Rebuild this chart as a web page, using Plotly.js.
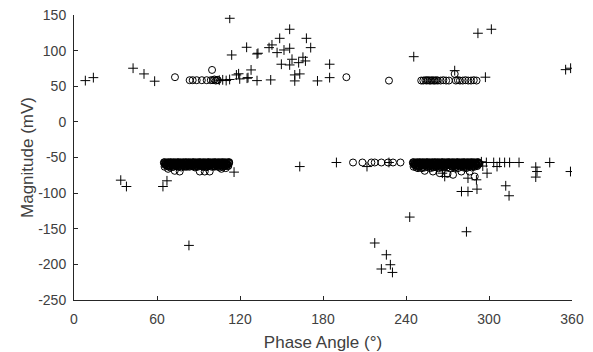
<!DOCTYPE html>
<html>
<head>
<meta charset="utf-8">
<script src="https://cdn.plot.ly/plotly-3.0.1.min.js"></script>
<style>html,body{margin:0;padding:0;background:#fff;}#chart{width:593px;height:352px;}</style>
</head>
<body>
<div id="chart"></div>
<script>
// '+' markers
const plusX = [8.2, 14.0, 42.7, 50.6, 58.3, 105.0, 107.5, 110.0, 112.5, 112.6, 114.0, 117.4, 119.0, 119.8, 124.8, 125.1, 125.8, 128.0, 132.3, 132.3, 133.0, 142.2, 143.1, 141.0, 146.8, 148.7, 151.8, 155.9, 155.9, 149.9, 155.9, 157.6, 162.4, 165.5, 167.3, 168.0, 171.1, 159.6, 163.2, 159.6, 176.0, 184.8, 184.8, 245.6, 275.2, 292.0, 301.7, 297.4, 355.4, 359.0,
  33.8, 37.9, 64.3, 67.2, 83.1, 115.7, 163.2, 189.7, 211.8, 227.7, 242.7, 217.4, 225.8, 228.7, 222.2, 230.2, 294.5, 298.1, 303.4, 307.7, 311.3, 314.9, 321.7, 343.9, 333.8, 334.7, 333.8, 358.9, 305.8, 298.6, 290.9, 284.8, 291.3, 280.1, 284.8, 312.1, 314.5, 283.7, 268.0, 266.3, 257.0, 262.0, 276.0, 295.5];
const plusY = [57.9, 62.1, 75.3, 67.3, 57.1, 58.5, 59.0, 58.0, 59.5, 145.4, 93.9, 65.9, 67.5, 60.3, 104.7, 61.3, 62.1, 72.9, 57.9, 95.3, 96.3, 58.9, 108.0, 104.2, 97.2, 117.3, 100.9, 130.0, 103.3, 80.9, 79.9, 87.9, 83.1, 90.7, 85.5, 117.3, 104.2, 65.9, 67.3, 57.5, 57.5, 80.9, 62.1, 91.5, 71.9, 124.4, 130.0, 62.7, 73.3, 75.3,
  -81.8, -90.7, -90.7, -82.7, -173.4, -70.5, -62.7, -57.0, -62.7, -57.0, -133.6, -170.0, -186.5, -200.5, -206.5, -211.3, -56.0, -57.0, -57.0, -57.0, -57.0, -57.0, -57.0, -57.0, -63.5, -69.7, -77.5, -69.7, -62.7, -72.0, -81.3, -79.0, -94.4, -97.7, -97.7, -89.7, -103.7, -154.2, -76.6, -72.0, -64.0, -66.0, -65.0, -62.0];

// 'o' markers
const circX = [73.0, 83.6, 85.8, 88.7, 92.4, 95.9, 98.9, 99.8, 100.5, 101.5, 102.5, 103.5, 104.0,
  196.9, 227.7, 201.7, 208.5, 215.0, 217.4, 222.2, 227.0, 230.6, 236.0,
  251.0, 252.5, 254.0, 255.0, 256.0, 257.0, 258.0, 259.0, 260.0, 261.0, 262.0, 263.0, 265.0, 267.0, 269.0, 271.0, 275.2, 276.0, 277.5, 279.0, 281.0, 283.0, 285.0, 287.0, 289.0, 291.0,
  65, 66, 67, 68, 69, 70, 71, 72, 73, 74, 75, 76, 77, 78, 79, 80, 81, 82, 83, 84, 85, 86, 87, 88, 89, 90, 91, 92, 93, 94, 95, 96, 97, 98, 99, 100, 101, 102, 103, 104, 105, 106, 107, 108, 109, 110, 111, 112,
  65.5, 67.5, 69.5, 71.5, 73.5, 75.5, 77.5, 79.5, 81.5, 83.5, 85.5, 87.5, 89.5, 91.5, 93.5, 95.5, 97.5, 99.5, 101.5, 103.5, 105.5, 107.5, 109.5, 111.5,
  65.2, 65.9, 66.6, 67.3, 68.0, 68.7, 69.4, 70.1, 70.8, 71.5, 72.2, 72.9, 73.6, 74.3, 75.0, 75.7, 76.4, 77.1, 77.8, 78.5, 79.2, 79.9, 80.6, 81.3, 82.0, 82.7, 83.4, 84.1, 84.8, 85.5, 86.2, 86.9, 87.6, 88.3, 89.0, 89.7, 90.4, 91.1, 91.8, 92.5, 93.2, 93.9, 94.6, 95.3, 96.0, 96.7, 97.4, 98.1, 98.8, 99.5, 100.2, 100.9, 101.6, 102.3, 103.0, 103.7, 104.4, 105.1, 105.8, 106.5, 107.2, 107.9, 108.6, 109.3, 110.0, 110.7, 111.4, 112.1,
  65.4, 66.3, 67.2, 68.1, 69.0, 69.9, 70.8, 71.7, 72.6, 73.5, 74.4, 75.3, 76.2, 77.1, 78.0, 78.9, 79.8, 80.7, 81.6, 82.5, 83.4, 84.3, 85.2, 86.1, 87.0, 87.9, 88.8, 89.7, 90.6, 91.5, 92.4, 93.3, 94.2, 95.1, 96.0, 96.9, 97.8, 98.7, 99.6, 100.5, 101.4, 102.3, 103.2, 104.1, 105.0, 105.9, 106.8, 107.7, 108.6, 109.5, 110.4, 111.3, 112.2,
  68.0, 72.8, 76.4, 90.9, 94.5, 98.1, 106.6, 109.7,
  245, 246, 247, 248, 249, 250, 251, 252, 253, 254, 255, 256, 257, 258, 259, 260, 261, 262, 263, 264, 265, 266, 267, 268, 269, 270, 271, 272, 273, 274, 275, 276, 277, 278, 279, 280, 281, 282, 283, 284, 285, 286, 287, 288, 289, 290, 291, 292, 293,
  245.5, 247.5, 249.5, 251.5, 253.5, 255.5, 257.5, 259.5, 261.5, 263.5, 265.5, 267.5, 269.5, 271.5, 273.5, 275.5, 277.5, 279.5, 281.5, 283.5, 285.5, 287.5, 289.5, 291.5,
  245.2, 245.9, 246.6, 247.3, 248.0, 248.7, 249.4, 250.1, 250.8, 251.5, 252.2, 252.9, 253.6, 254.3, 255.0, 255.7, 256.4, 257.1, 257.8, 258.5, 259.2, 259.9, 260.6, 261.3, 262.0, 262.7, 263.4, 264.1, 264.8, 265.5, 266.2, 266.9, 267.6, 268.3, 269.0, 269.7, 270.4, 271.1, 271.8, 272.5, 273.2, 273.9, 274.6, 275.3, 276.0, 276.7, 277.4, 278.1, 278.8, 279.5, 280.2, 280.9, 281.6, 282.3, 283.0, 283.7, 284.4, 285.1, 285.8, 286.5, 287.2, 287.9, 288.6, 289.3, 290.0, 290.7, 291.4, 292.1, 292.8,
  245.4, 246.3, 247.2, 248.1, 249.0, 249.9, 250.8, 251.7, 252.6, 253.5, 254.4, 255.3, 256.2, 257.1, 258.0, 258.9, 259.8, 260.7, 261.6, 262.5, 263.4, 264.3, 265.2, 266.1, 267.0, 267.9, 268.8, 269.7, 270.6, 271.5, 272.4, 273.3, 274.2, 275.1, 276.0, 276.9, 277.8, 278.7, 279.6, 280.5, 281.4, 282.3, 283.2, 284.1, 285.0, 285.9, 286.8, 287.7, 288.6, 289.5, 290.4, 291.3, 292.2,
  248.7, 253.5, 259.5, 264.4, 270.0, 274.0, 280.0, 286.0, 289.7];
const circY = [62.7, 58.5, 58.5, 58.5, 58.5, 58.5, 58.5, 72.9, 58.5, 59.5, 58.0, 59.0, 58.5,
  62.7, 57.9, -57.0, -57.0, -57.0, -57.0, -57.0, -57.0, -57.0, -57.0,
  58.0, 58.0, 58.5, 58.0, 58.5, 58.0, 58.0, 58.5, 58.0, 58.0, 58.5, 58.0, 58.0, 58.5, 58.0, 58.0, 67.3, 58.0, 58.5, 58.0, 58.0, 58.5, 58.0, 58.0, 58.5, 58.0,
  -57, -59, -61, -58, -62, -57, -60, -63, -58, -61, -57, -59, -62, -58, -60, -63, -57, -61, -59, -58, -62, -57, -60, -63, -58, -61, -57, -59, -62, -58, -60, -63, -57, -61, -59, -58, -62, -57, -60, -63, -58, -61, -57, -59, -62, -58, -60, -57,
  -63, -62, -64, -63, -62, -63, -64, -62, -63, -63, -62, -64, -63, -62, -63, -64, -62, -63, -63, -62, -64, -63, -62, -62,
  -58.5, -60.5, -59.5, -61.5, -58.0, -60.0, -62.0, -59.0, -61.0, -58.5, -60.5, -59.5, -61.5, -58.0, -60.0, -62.0, -59.0, -61.0, -58.5, -60.5, -59.5, -61.5, -58.0, -60.0, -62.0, -59.0, -61.0, -58.5, -60.5, -59.5, -61.5, -58.0, -60.0, -62.0, -59.0, -61.0, -58.5, -60.5, -59.5, -61.5, -58.0, -60.0, -62.0, -59.0, -61.0, -58.5, -60.5, -59.5, -61.5, -58.0, -60.0, -62.0, -59.0, -61.0, -58.5, -60.5, -59.5, -61.5, -58.0, -60.0, -62.0, -59.0, -61.0, -58.5, -60.5, -59.5, -61.5, -58.0,
  -56.5, -57.5, -56.8, -57.2, -56.5, -57.5, -56.8, -57.2, -56.5, -57.5, -56.8, -57.2, -56.5, -57.5, -56.8, -57.2, -56.5, -57.5, -56.8, -57.2, -56.5, -57.5, -56.8, -57.2, -56.5, -57.5, -56.8, -57.2, -56.5, -57.5, -56.8, -57.2, -56.5, -57.5, -56.8, -57.2, -56.5, -57.5, -56.8, -57.2, -56.5, -57.5, -56.8, -57.2, -56.5, -57.5, -56.8, -57.2, -56.5, -57.5, -56.8, -57.2, -56.5,
  -65.9, -68.7, -69.7, -69.7, -69.7, -69.7, -65.9, -64.9,
  -57, -59, -61, -58, -62, -57, -60, -63, -58, -61, -57, -59, -62, -58, -60, -63, -57, -61, -59, -58, -62, -57, -60, -63, -58, -61, -57, -59, -62, -58, -60, -63, -57, -61, -59, -58, -62, -57, -60, -63, -58, -61, -57, -59, -62, -58, -60, -57, -58,
  -63, -64, -63, -65, -64, -63, -65, -64, -63, -65, -64, -63, -64, -65, -63, -64, -65, -63, -64, -65, -63, -64, -63, -62,
  -58.5, -60.5, -59.5, -61.5, -58.0, -60.0, -62.0, -59.0, -61.0, -58.5, -60.5, -59.5, -61.5, -58.0, -60.0, -62.0, -59.0, -61.0, -58.5, -60.5, -59.5, -61.5, -58.0, -60.0, -62.0, -59.0, -61.0, -58.5, -60.5, -59.5, -61.5, -58.0, -60.0, -62.0, -59.0, -61.0, -58.5, -60.5, -59.5, -61.5, -58.0, -60.0, -62.0, -59.0, -61.0, -58.5, -60.5, -59.5, -61.5, -58.0, -60.0, -62.0, -59.0, -61.0, -58.5, -60.5, -59.5, -61.5, -58.0, -60.0, -62.0, -59.0, -61.0, -58.5, -60.5, -59.5, -61.5, -58.0, -59.0,
  -56.5, -57.5, -56.8, -57.2, -56.5, -57.5, -56.8, -57.2, -56.5, -57.5, -56.8, -57.2, -56.5, -57.5, -56.8, -57.2, -56.5, -57.5, -56.8, -57.2, -56.5, -57.5, -56.8, -57.2, -56.5, -57.5, -56.8, -57.2, -56.5, -57.5, -56.8, -57.2, -56.5, -57.5, -56.8, -57.2, -56.5, -57.5, -56.8, -57.2, -56.5, -57.5, -56.8, -57.2, -56.5, -57.5, -56.8, -57.2, -56.5, -57.5, -56.8, -57.2, -56.5,
  -65.0, -68.7, -69.7, -72.0, -73.0, -74.3, -69.7, -69.7, -76.7];

const xTicks = [0, 60, 120, 180, 240, 300, 360];
const xTickText = ['0', '60', '120', '180', '240', '300', '360'];
const yTicks = [-250, -200, -150, -100, -50, 0, 50, 100, 150];
const yTickText = ['-250', '-200', '-150', '-100', '-50', '0', '50', '100', '150'];

const axisColor = '#262626';
const traces = [
  {x: circX, y: circY, type: 'scatter', mode: 'markers', showlegend: false,
   marker: {symbol: 'circle-open', size: 7, color: '#000', line: {width: 1, color: '#000'}}},
  {x: plusX, y: plusY, type: 'scatter', mode: 'markers', showlegend: false,
   marker: {symbol: 'cross-thin-open', size: 7, color: '#000', line: {width: 1, color: '#000'}}}
];

const layout = {
  width: 593, height: 352,
  margin: {l: 74, r: 21, t: 15, b: 52, pad: 0},
  paper_bgcolor: '#fff', plot_bgcolor: '#fff',
  font: {family: 'Liberation Sans, Arial, sans-serif', color: axisColor, size: 14},
  xaxis: {
    range: [0, 360], tickvals: xTicks, ticktext: xTickText,
    showgrid: false, zeroline: false, showline: true, linecolor: axisColor, linewidth: 1,
    ticks: 'inside', ticklen: 4, tickcolor: axisColor, tickwidth: 1,
    tickfont: {size: 14, color: '#404040'}, ticklabelstandoff: 6,
    title: {text: 'Phase Angle (°)', font: {size: 17, color: '#404040'}, standoff: 12},
    automargin: false
  },
  yaxis: {
    range: [-250, 150], tickvals: yTicks, ticktext: yTickText,
    showgrid: false, zeroline: false, showline: true, linecolor: axisColor, linewidth: 1,
    ticks: 'inside', ticklen: 4, tickcolor: axisColor, tickwidth: 1,
    tickfont: {size: 14, color: '#404040'}, ticklabelstandoff: 4,
    title: {text: 'Magnitude (mV)', font: {size: 17, color: '#404040'}, standoff: 0},
    automargin: false
  }
};

Plotly.newPlot('chart', traces, layout, {displayModeBar: false, staticPlot: true});
</script>
</body>
</html>
